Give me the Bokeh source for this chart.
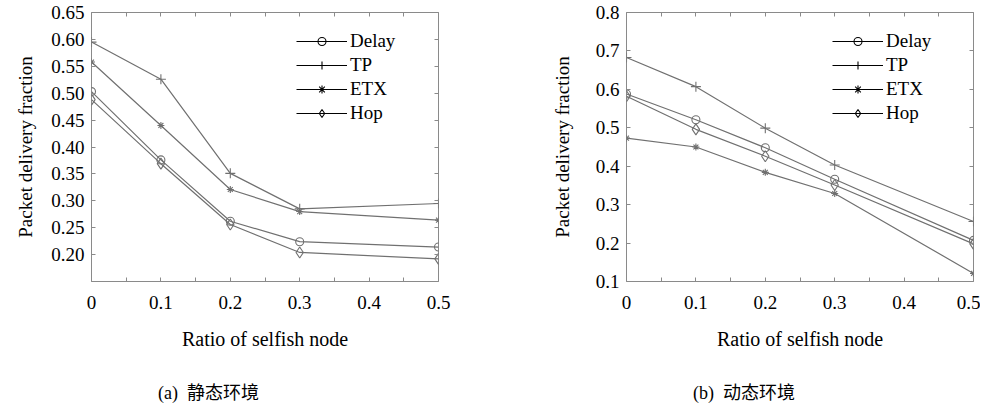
from bokeh.plotting import figure
from bokeh.models import (LinearAxis, FixedTicker, PrintfTickFormatter, Legend,
                          LegendItem, Range1d, CustomJSTickFormatter, Div)
from bokeh.layouts import row, column
from bokeh.embed import file_html
from bokeh.resources import INLINE

# ---------------- data ----------------
x_ratio = [0, 0.1, 0.2, 0.3, 0.5]
series_names = ["Delay", "TP", "ETX", "Hop"]

# (a) static environment
delay_a = [0.503, 0.376, 0.262, 0.224, 0.214]
tp_a = [0.595, 0.526, 0.351, 0.285, 0.295]
etx_a = [0.558, 0.440, 0.321, 0.280, 0.264]
hop_a = [0.488, 0.369, 0.256, 0.204, 0.192]

# (b) dynamic environment
delay_b = [0.588, 0.521, 0.448, 0.366, 0.207]
tp_b = [0.683, 0.607, 0.499, 0.403, 0.256]
etx_b = [0.473, 0.450, 0.384, 0.329, 0.121]
hop_b = [0.582, 0.496, 0.426, 0.351, 0.198]

x_ticks = [0, 0.1, 0.2, 0.3, 0.4, 0.5]
x_minor = [0.05, 0.15, 0.25, 0.35, 0.45]
y_ticks_a = [0.20, 0.25, 0.30, 0.35, 0.40, 0.45, 0.50, 0.55, 0.60, 0.65]
y_ticks_b = [0.1, 0.2, 0.3, 0.4, 0.5, 0.6, 0.7, 0.8]

x_title = "Ratio of selfish node"
y_title = "Packet delivery fraction"
caption_a = "(a)&nbsp; 静态环境"
caption_b = "(b)&nbsp; 动态环境"

MARKERS = {"Delay": ("circle", 8), "TP": ("cross", 10), "ETX": ("asterisk", 7), "Hop": ("diamond", 11)}
SERIF = "Liberation Serif"
LINE_GRAY = "#707070"
FRAME_GRAY = "#8a8a8a"


def style_axis(ax, show_labels=True):
    ax.axis_line_color = None
    ax.major_tick_in = 4
    ax.major_tick_out = 0
    ax.minor_tick_in = 4
    ax.minor_tick_out = 0
    ax.major_tick_line_color = FRAME_GRAY
    ax.minor_tick_line_color = FRAME_GRAY
    ax.major_label_text_font = SERIF
    ax.major_label_text_color = "black"
    if show_labels:
        ax.major_label_text_font_size = "19px"
    else:
        ax.formatter = CustomJSTickFormatter(code="return ''")
        ax.major_label_text_font_size = "1px"
        ax.major_label_standoff = 0


def make_panel(data, y_lo, y_hi, y_ticks, y_fmt, width, border_left,
               border_right, ylabel_standoff, legend_x):
    p = figure(width=width, height=381, x_range=Range1d(0, 0.5),
               y_range=Range1d(y_lo, y_hi), output_backend="svg",
               toolbar_location=None, min_border_left=border_left,
               min_border_right=border_right, min_border_top=12,
               min_border_bottom=100, x_axis_label=x_title, y_axis_label=y_title)
    p.grid.visible = False
    p.outline_line_color = FRAME_GRAY
    p.outline_line_width = 1
    p.background_fill_color = "white"
    p.border_fill_color = "white"

    xa = p.xaxis[0]
    ya = p.yaxis[0]
    xa.ticker = FixedTicker(ticks=x_ticks, minor_ticks=x_minor)
    ya.ticker = FixedTicker(ticks=y_ticks, minor_ticks=[])
    style_axis(xa)
    style_axis(ya)
    xa.major_label_overrides = {0: "0"}
    xa.major_label_standoff = 14
    ya.major_label_standoff = 7
    ya.formatter = PrintfTickFormatter(format=y_fmt)
    for ax, st, fs in ((xa, 16, "20px"), (ya, ylabel_standoff, "19px")):
        ax.axis_label_text_font = SERIF
        ax.axis_label_text_font_style = "normal"
        ax.axis_label_text_font_size = fs
        ax.axis_label_text_color = "black"
        ax.axis_label_standoff = st

    top = LinearAxis(ticker=FixedTicker(ticks=x_ticks, minor_ticks=x_minor))
    right = LinearAxis(ticker=FixedTicker(ticks=y_ticks, minor_ticks=[]))
    style_axis(top, False)
    style_axis(right, False)
    p.add_layout(top, "above")
    p.add_layout(right, "right")

    items = []
    for name, ys in zip(series_names, data):
        mk, sz = MARKERS[name]
        p.line(x_ratio, ys, line_color=LINE_GRAY, line_width=1.2)
        p.scatter(x_ratio, ys, marker=mk, size=sz, line_color=LINE_GRAY,
                  fill_color=None, line_width=1.1)
        # black legend sample: one point placed outside the visible ranges
        lr = p.line([-1, -2], [-1, -1], line_color="black", line_width=1.2)
        sr = p.scatter([-1], [-1], marker=mk, size=sz, line_color="black",
                       fill_color=None, line_width=1.1)
        items.append(LegendItem(label=name, renderers=[lr, sr]))

    leg = Legend(items=items, location=(legend_x, 157), padding=0, spacing=2,
                 glyph_width=51, glyph_height=20, label_height=20,
                 label_standoff=3, border_line_color=None,
                 background_fill_alpha=0, label_text_font=SERIF,
                 label_text_font_size="19px", label_text_color="black")
    p.add_layout(leg)
    return p


def caption_div(text, indent):
    html = ('<div style="padding-left:%dpx; font-family:\'Liberation Serif\', '
            '\'Noto Sans CJK SC\', serif; font-size:18px; line-height:24px; '
            'color:black; white-space:nowrap; margin:0;">%s</div>' % (indent, text))
    return Div(text=html, width=490, height=24, margin=0)


pa = make_panel([delay_a, tp_a, etx_a, hop_a], 0.15, 0.65, y_ticks_a + [0.15], "%.2f",
                490, 91, 52, 12, 205)
pb = make_panel([delay_b, tp_b, etx_b, hop_b], 0.1, 0.8, y_ticks_b, "%.1f",
                490, 136, 7, 20, 206)
pa.yaxis[0].major_label_overrides = {0.15: ""}

layout = column(row(pa, pb), row(caption_div(caption_a, 158), caption_div(caption_b, 203)))
open("out.html", "w").write(file_html(layout, INLINE))
